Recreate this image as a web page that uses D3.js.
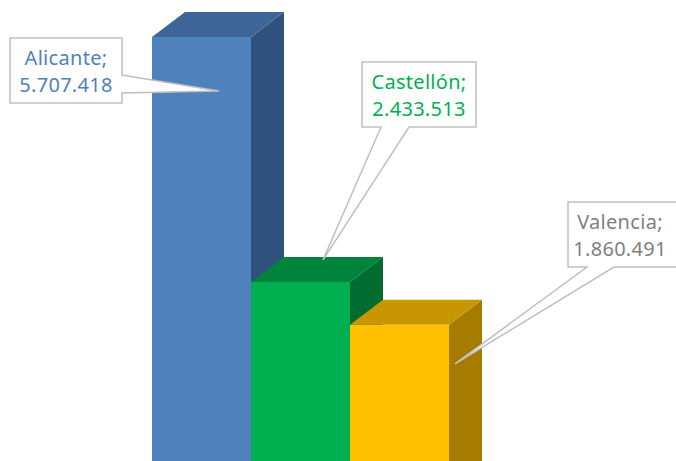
<!DOCTYPE html>
<html><head><meta charset="utf-8">
<script src="https://cdn.jsdelivr.net/npm/d3@7"></script>
<style>html,body{margin:0;padding:0;background:#fff;}svg{display:block;}</style>
</head><body>
<script>
const categories = ["Alicante", "Castellón", "Valencia"];
const values = [5707418, 2433513, 1860491];
const labelTexts = ["5.707.418", "2.433.513", "1.860.491"];
const frontColors = ["#4F81BD", "#00B050", "#FFC000"];
const topColors = ["#3D6598", "#00843C", "#C79600"];
const sideColors = ["#30507E", "#006C30", "#A67C00"];
const textColors = ["#4F81BD", "#00B050", "#808080"];

const W = 676, H = 461;
const svg = d3.select("body").append("svg").attr("width", W).attr("height", H);

const x = d3.scaleBand().domain(categories).range([152, 449]).padding(0);
const y = d3.scaleLinear().domain([0, d3.max(values)]).range([464, 37]);
const dx = 33, dy = 25;
const bottom = 500;

categories.forEach((c, i) => {
  const x0 = x(c), x1 = x0 + x.bandwidth(), t = y(values[i]);
  const g = svg.append("g");
  g.append("polygon").attr("points", [[x1, t], [x1 + dx, t - dy], [x1 + dx, bottom - dy], [x1, bottom]].join(" ")).attr("fill", sideColors[i]);
  g.append("polygon").attr("points", [[x0, t], [x0 + dx, t - dy], [x1 + dx, t - dy], [x1, t]].join(" ")).attr("fill", topColors[i]);
  g.append("rect").attr("x", x0).attr("y", t).attr("width", x.bandwidth()).attr("height", bottom - t).attr("fill", frontColors[i]);
});

// callouts: box positions and tips (tip relative to bar geometry)
const boxes = [
  {x: 10, y: 38, w: 112, h: 65, side: "right", b0: 75, b1: 93},
  {x: 362, y: 62, w: 114, h: 65, side: "bottom", b0: 381, b1: 409},
  {x: 568, y: 202, w: 110, h: 65, side: "bottom", b0: 587, b1: 614}
];
const tips = categories.map((c, i) => {
  const x0 = x(c), x1 = x0 + x.bandwidth(), t = y(values[i]);
  if (i === 0) return [x0 + 67, t + 54];
  if (i === 1) return [x0 + 72, t - 22];
  return [x1 + 6, t + 39];
});

boxes.forEach((b, i) => {
  const g = svg.append("g");
  const [tx, ty] = tips[i];
  let pts;
  if (b.side === "right") {
    pts = [[b.x, b.y], [b.x + b.w, b.y], [b.x + b.w, b.b0], [tx, ty], [b.x + b.w, b.b1], [b.x + b.w, b.y + b.h], [b.x, b.y + b.h]];
  } else {
    pts = [[b.x, b.y], [b.x + b.w, b.y], [b.x + b.w, b.y + b.h], [b.b1, b.y + b.h], [tx, ty], [b.b0, b.y + b.h], [b.x, b.y + b.h]];
  }
  g.append("polygon").attr("points", pts.join(" ")).attr("fill", "#fff").attr("stroke", "#BFBFBF").attr("stroke-width", 1.5);
  const cx = b.x + b.w / 2 + (i === 2 ? -3 : 0);
  const txt = g.append("text").attr("text-anchor", "middle").attr("fill", textColors[i])
    .style("font-family", "'Noto Sans', sans-serif").style("font-size", "20px").style("letter-spacing", "0.3px");
  txt.append("tspan").attr("x", cx).attr("y", b.y + 27).text(categories[i] + ";");
  txt.append("tspan").attr("x", cx).attr("y", b.y + 54).text(labelTexts[i]);
});
</script>
</body></html>
